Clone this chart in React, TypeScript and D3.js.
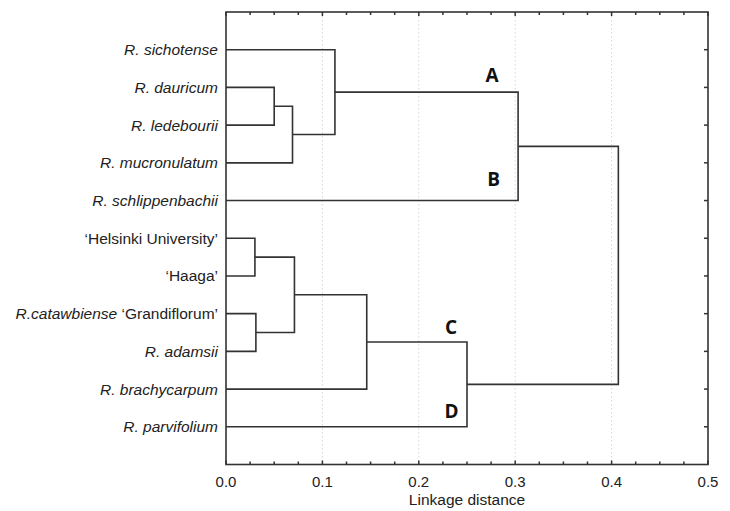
import React from "react";
import * as d3 from "d3";

// Leaves (top to bottom); italic part and upright part
const leafItalic = [
  "R. sichotense",
  "R. dauricum",
  "R. ledebourii",
  "R. mucronulatum",
  "R. schlippenbachii",
  "",
  "",
  "R.catawbiense",
  "R. adamsii",
  "R. brachycarpum",
  "R. parvifolium",
];
const leafUpright = [
  "",
  "",
  "",
  "",
  "",
  "\u2018Helsinki University\u2019",
  "\u2018Haaga\u2019",
  " \u2018Grandiflorum\u2019",
  "",
  "",
  "",
];

// Merges: [childA, childB, linkage distance]; nodes 0..10 are leaves, new nodes from 11
const mergeA = [1, 11, 0, 13, 5, 7, 15, 17, 18, 14];
const mergeB = [2, 3, 12, 4, 6, 8, 16, 9, 10, 19];
const mergeH = [0.05, 0.069, 0.113, 0.303, 0.03, 0.031, 0.071, 0.146, 0.25, 0.407];

// Cluster labels
const clusterNames = ["A", "B", "C", "D"];
const clusterX = [0.276, 0.2775, 0.2334, 0.234];
const clusterY = [1.86, 4.62, 8.54, 10.77];

const xTicks = [0, 0.1, 0.2, 0.3, 0.4, 0.5];
const gridTicks = [0.1, 0.2, 0.3, 0.4];

export default function App() {
  const W = 730,
    H = 511;
  const left = 226,
    right = 708,
    top = 12,
    bottom = 464.5;
  const x = d3.scaleLinear().domain([0, 0.5]).range([left, right]);
  const y = d3.scaleLinear().domain([0, leafItalic.length + 1]).range([top, bottom]);

  const n = leafItalic.length;
  const nodeY: number[] = leafItalic.map((_, i) => i + 1);
  const nodeH: number[] = leafItalic.map(() => 0);
  mergeA.forEach((a, k) => {
    const b = mergeB[k];
    nodeY[n + k] = (nodeY[a] + nodeY[b]) / 2;
    nodeH[n + k] = mergeH[k];
  });

  const line = d3.line<[number, number]>();
  const links = mergeA.map((a, k) => {
    const b = mergeB[k];
    const h = mergeH[k];
    return line([
      [x(nodeH[a]), y(nodeY[a])],
      [x(h), y(nodeY[a])],
      [x(h), y(nodeY[b])],
      [x(nodeH[b]), y(nodeY[b])],
    ]);
  });

  const minorTicks = d3.range(0, 21).map((i) => i * 0.025);
  const stroke = "#333";
  const font = "'Liberation Sans', Arial, sans-serif";

  return (
    <svg
      width={W}
      height={H}
      style={{ position: "absolute", left: 0, top: 0, background: "#fff" }}
      fontFamily={font}
    >
      <rect x={0} y={0} width={W} height={H} fill="#fff" />
      {gridTicks.map((t) => (
        <line
          key={"g" + t}
          x1={x(t)}
          x2={x(t)}
          y1={top}
          y2={bottom}
          stroke="#d6d6d6"
          strokeWidth={1}
          strokeDasharray="1.5,2.5"
        />
      ))}
      {/* minor ticks top & bottom */}
      {minorTicks.map((t, i) => {
        const major = i % 4 === 0;
        const len = major ? 4 : 3;
        return (
          <g key={"t" + i}>
            <line x1={x(t)} x2={x(t)} y1={top} y2={top + len} stroke={stroke} strokeWidth={1.5} />
            <line x1={x(t)} x2={x(t)} y1={bottom} y2={bottom - len} stroke={stroke} strokeWidth={1.5} />
          </g>
        );
      })}
      {/* right axis ticks at leaves */}
      {leafItalic.map((_, i) => (
        <line
          key={"r" + i}
          x1={right}
          x2={right - 4}
          y1={y(i + 1)}
          y2={y(i + 1)}
          stroke={stroke}
          strokeWidth={1.5}
        />
      ))}
      {links.map((d, i) => (
        <path key={"l" + i} d={d || ""} fill="none" stroke={stroke} strokeWidth={1.6} />
      ))}
      <rect
        x={left}
        y={top}
        width={right - left}
        height={bottom - top}
        fill="none"
        stroke={stroke}
        strokeWidth={1.6}
      />
      {leafItalic.map((it, i) => (
        <text
          key={"lab" + i}
          x={left - 8}
          y={y(i + 1)}
          dy="0.35em"
          textAnchor="end"
          fontSize={15.5}
          fill="#222"
        >
          {it && <tspan fontStyle="italic">{it}</tspan>}
          {leafUpright[i] && <tspan>{leafUpright[i]}</tspan>}
        </text>
      ))}
      {xTicks.map((t) => (
        <text key={"xt" + t} x={x(t)} y={487} textAnchor="middle" fontSize={15} fill="#222">
          {d3.format(".1f")(t)}
        </text>
      ))}
      <text x={(left + right) / 2} y={505} textAnchor="middle" fontSize={15.5} fill="#222">
        Linkage distance
      </text>
      {clusterNames.map((c, i) => (
        <text
          key={c}
          x={x(clusterX[i])}
          y={y(clusterY[i])}
          textAnchor="middle"
          fontSize={19}
          fontWeight="bold"
          fill="#111"
          fontFamily="'Open Sans', 'Liberation Sans', sans-serif"
        >
          {c}
        </text>
      ))}
    </svg>
  );
}
